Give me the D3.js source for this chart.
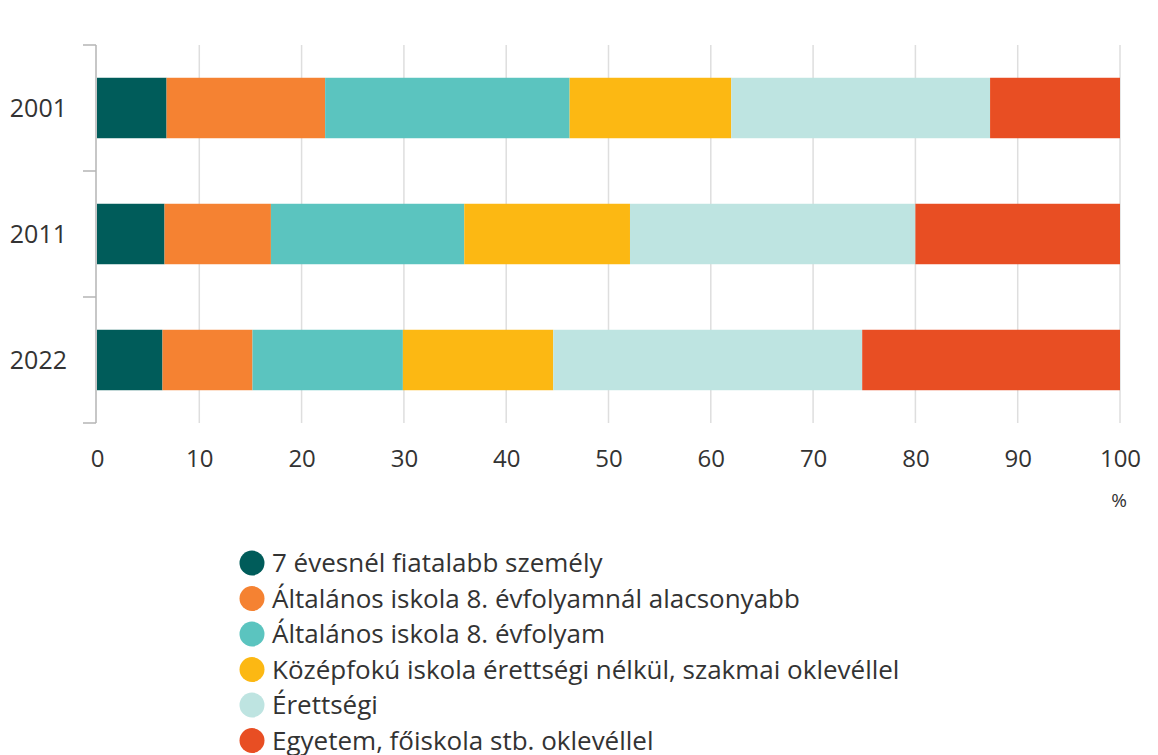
<!DOCTYPE html>
<html>
<head>
<meta charset="utf-8">
<script src="https://cdn.jsdelivr.net/npm/d3@7"></script>
<style>
  body { margin: 0; background: #fff; }
  text { font-family: "Open Sans", sans-serif; fill: #333; }
</style>
</head>
<body>
<div id="chart"></div>
<script>
// Stacked 100% bars: educational attainment by census year

var years = ["2001", "2011", "2022"];
var categories = [
  "7 évesnél fiatalabb személy",
  "Általános iskola 8. évfolyamnál alacsonyabb",
  "Általános iskola 8. évfolyam",
  "Középfokú iskola érettségi nélkül, szakmai oklevéllel",
  "Érettségi",
  "Egyetem, főiskola stb. oklevéllel"
];
var colors = ["#005c5a", "#f58232", "#5bc4bf", "#fcb813", "#bee4e1", "#e84e23"];

// percentages per category, one value per year
var under7      = [6.8, 6.6, 6.4];
var below8      = [15.5, 10.4, 8.8];
var grade8      = [23.9, 18.9, 14.7];
var vocational  = [15.8, 16.2, 14.7];
var matura      = [25.3, 27.9, 30.2];
var university  = [12.7, 20.0, 25.2];
var series = [under7, below8, grade8, vocational, matura, university];

var xTicks = [0, 10, 20, 30, 40, 50, 60, 70, 80, 90, 100];

var W = 1158, H = 755;
var margin = {top: 45, left: 97, right: 38};
var plotW = 1120 - margin.left;
var plotH = 378;

var svg = d3.select("#chart").append("svg")
  .attr("width", W)
  .attr("height", H);

var x = d3.scaleLinear().domain([0, 100]).range([margin.left, margin.left + plotW]);
var y = d3.scaleBand().domain(years)
  .range([margin.top, margin.top + plotH])
  .paddingInner(0.52).paddingOuter(0.26);

// grid lines
svg.append("g")
  .selectAll("line")
  .data(xTicks.slice(1))
  .enter().append("line")
  .attr("x1", function(d) { return x(d); })
  .attr("x2", function(d) { return x(d); })
  .attr("y1", margin.top)
  .attr("y2", margin.top + plotH)
  .style("stroke", "#dedede")
  .style("stroke-width", 1.5);

// build stacked data
var rows = years.map(function(yr, i) {
  var r = {year: yr};
  categories.forEach(function(c, j) { r[c] = series[j][i]; });
  return r;
});
var stacked = d3.stack().keys(categories)(rows);

svg.append("g")
  .selectAll("g")
  .data(stacked)
  .enter().append("g")
  .attr("fill", function(d, i) { return colors[i]; })
  .selectAll("rect")
  .data(function(d) { return d; })
  .enter().append("rect")
  .attr("x", function(d) { return x(d[0]); })
  .attr("width", function(d) { return x(d[1]) - x(d[0]); })
  .attr("y", function(d) { return y(d.data.year); })
  .attr("height", y.bandwidth());

// y axis: line with ticks at band boundaries
var axisG = svg.append("g").style("stroke", "#b5b5b5").style("stroke-width", 1.5);
axisG.append("line")
  .attr("x1", margin.left - 1).attr("x2", margin.left - 1)
  .attr("y1", margin.top).attr("y2", margin.top + plotH);
var tickYs = [0, 1, 2, 3].map(function(k) { return margin.top + k * (plotH / 3); });
axisG.selectAll("line.tick")
  .data(tickYs)
  .enter().append("line")
  .attr("class", "tick")
  .attr("x1", margin.left - 14).attr("x2", margin.left - 1)
  .attr("y1", function(d) { return d; })
  .attr("y2", function(d) { return d; });

// y labels
svg.append("g")
  .selectAll("text")
  .data(years)
  .enter().append("text")
  .attr("x", 67)
  .attr("y", function(d) { return y(d) + y.bandwidth() / 2; })
  .attr("dy", "0.35em")
  .attr("text-anchor", "end")
  .style("font-size", "25px")
  .text(function(d) { return d; });

// x labels
var xAxis = d3.axisBottom(x).tickValues(xTicks).tickSize(0).tickPadding(0);
var gx = svg.append("g")
  .attr("transform", "translate(0," + 467 + ")")
  .call(xAxis);
gx.select(".domain").remove();
gx.selectAll("text")
  .attr("dy", "0")
  .style("font-size", "24px")
  .style("font-family", "'Open Sans', sans-serif")
  .attr("fill", "#333");

svg.append("text")
  .attr("x", x(100) - 1)
  .attr("y", 507)
  .attr("text-anchor", "middle")
  .style("font-size", "19px")
  .text("%");

// legend
var legend = svg.append("g")
  .selectAll("g")
  .data(categories)
  .enter().append("g")
  .attr("transform", function(d, i) { return "translate(252," + (563 + i * 35.5) + ")"; });

legend.append("circle")
  .attr("r", 12.5)
  .attr("fill", function(d, i) { return colors[i]; });

legend.append("text")
  .attr("x", 20)
  .attr("dy", "0.36em")
  .style("font-size", "26px")
  .text(function(d) { return d; });
</script>
</body>
</html>
